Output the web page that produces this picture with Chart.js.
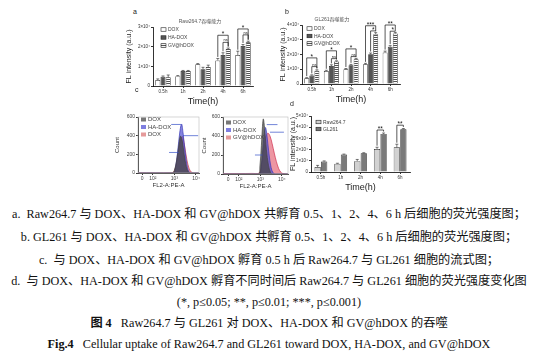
<!DOCTYPE html>
<html>
<head>
<meta charset="utf-8">
<script src="https://cdn.jsdelivr.net/npm/chart.js@4.4.1/dist/chart.umd.min.js"></script>
<style>
body{margin:0;background:#fff;width:538px;height:354px;position:relative;overflow:hidden;font-family:"Liberation Sans",Arial,sans-serif}
canvas{position:absolute}
.tag{position:absolute;font-size:7px;color:#222}
.cap{position:absolute;left:0;width:538px;text-align:center;white-space:nowrap;font-family:"Liberation Serif","Noto Sans CJK SC",serif;font-size:12.2px;line-height:14px;color:#111}
</style>
</head>
<body>
<canvas id="ca" width="132" height="90" style="left:125px;top:17px"></canvas>
<canvas id="cb" width="125" height="90" style="left:279px;top:15px"></canvas>
<canvas id="cc1" width="88" height="77" style="left:114px;top:112px"></canvas>
<canvas id="cc2" width="90" height="78" style="left:201px;top:112px"></canvas>
<canvas id="cd" width="125" height="84" style="left:289px;top:109px"></canvas>

<div class="tag" style="left:133px;top:8px">a</div>
<div class="tag" style="left:285px;top:8px">b</div>
<div class="tag" style="left:135px;top:86px">c</div>
<div class="tag" style="left:290px;top:100px">d</div>

<div class="cap" style="top:207px">a.&nbsp; Raw264.7 与 DOX、HA-DOX 和 GV@hDOX 共孵育 0.5、1、2、4、6 h 后细胞的荧光强度图；</div>
<div class="cap" style="top:230px">b. GL261 与 DOX、HA-DOX 和 GV@hDOX 共孵育 0.5、1、2、4、6 h 后细胞的荧光强度图；</div>
<div class="cap" style="top:253px">c.&nbsp; 与 DOX、HA-DOX 和 GV@hDOX 孵育 0.5 h 后 Raw264.7 与 GL261 细胞的流式图；</div>
<div class="cap" style="top:274px">d.&nbsp; 与 DOX、HA-DOX 和 GV@hDOX 孵育不同时间后 Raw264.7 与 GL261 细胞的荧光强度变化图</div>
<div class="cap" style="top:295px">(*, p≤0.05; **, p≤0.01; ***, p≤0.001)</div>
<div class="cap" style="top:316px"><b>图 4</b>&nbsp;&nbsp; Raw264.7 与 GL261 对 DOX、HA-DOX 和 GV@hDOX 的吞噬</div>
<div class="cap" style="top:337px"><b>Fig.4</b>&nbsp;&nbsp; Cellular uptake of Raw264.7 and GL261 toward DOX, HA-DOX, and GV@hDOX</div>

<script>
// ---------- data (FL intensity in units of 10^4) ----------
const times = ["0.5h", "1h", "2h", "4h", "6h"];

// a. Raw264.7
const rawDOX = [0.30, 0.50, 1.10, 1.30, 1.57];
const rawHA  = [0.47, 0.76, 0.85, 1.57, 2.03];
const rawGV  = [0.44, 0.76, 0.96, 1.88, 2.22];
const rawDOXErr = [0.06, 0.03, 0.04, 0.10, 0.20];
const rawHAErr  = [0.04, 0.03, 0.10, 0.12, 0.08];
const rawGVErr  = [0.12, 0.03, 0.10, 0.05, 0.06];
// [time index, from dataset, to dataset, bracket height, label]
const rawSig = [[3, 0, 2, 2.58, "*"], [3, 1, 2, 2.22, "ns"], [4, 0, 2, 2.9, "*"], [4, 1, 2, 2.6, "ns"]];

// b. GL261
const glDOX = [0.39, 0.88, 1.00, 1.34, 2.13];
const glHA  = [0.57, 1.22, 1.27, 2.02, 2.52];
const glGV  = [0.90, 1.52, 1.68, 3.38, 3.42];
const glDOXErr = [0.04, 0.05, 0.05, 0.06, 0.10];
const glHAErr  = [0.05, 0.08, 0.06, 0.08, 0.08];
const glGVErr  = [0.06, 0.05, 0.06, 0.10, 0.08];
const glSig = [[0, 0, 2, 1.77, "*"], [0, 1, 2, 1.18, "ns"], [1, 0, 2, 2.25, "*"], [1, 1, 2, 1.72, "ns"],
               [2, 0, 2, 2.38, "*"], [2, 1, 2, 1.86, "ns"], [3, 0, 2, 3.95, "***"], [3, 1, 2, 3.6, "*"],
               [4, 0, 2, 4.0, "**"], [4, 1, 2, 3.58, "*"]];

// d. GV@hDOX in both cell lines
const dRaw = [0.44, 0.74, 0.97, 2.06, 2.20];
const dGL  = [0.94, 1.56, 1.68, 3.40, 3.82];
const dRawErr = [0.15, 0.04, 0.15, 0.15, 0.28];
const dGLErr  = [0.05, 0.04, 0.04, 0.08, 0.06];
const dSig = [[3, 0, 1, 3.75, "**"], [4, 0, 1, 4.18, "**"]];

// c. flow histograms: [log10 FL2-A, count]
const flowTicks = [1.5, 2, 3, 4];
const flowTickText = ["0", "10²", "10³", "10⁴"];
const rawFlowDOX = [[1.31,0],[2.9,0],[3.0,30],[3.1,130],[3.2,290],[3.28,395],[3.36,350],[3.45,200],[3.55,70],[3.65,10],[3.75,0],[4.14,0]];
const rawFlowHA  = [[1.31,0],[2.95,0],[3.05,60],[3.15,230],[3.25,440],[3.33,525],[3.4,430],[3.5,220],[3.6,60],[3.7,5],[3.8,0],[4.14,0]];
const rawFlowGV  = [[1.31,2],[2.9,3],[3.0,25],[3.1,110],[3.2,260],[3.3,370],[3.38,390],[3.48,280],[3.58,140],[3.68,50],[3.78,10],[3.9,0],[4.14,0]];
const glFlowDOX = [[1.26,0],[2.9,0],[2.98,80],[3.05,300],[3.1,500],[3.14,580],[3.2,480],[3.28,260],[3.38,90],[3.48,15],[3.58,0],[4.29,0]];
const glFlowHA  = [[1.26,0],[2.95,0],[3.03,60],[3.1,220],[3.18,420],[3.24,490],[3.3,420],[3.4,220],[3.5,70],[3.6,10],[3.7,0],[4.29,0]];
const glFlowGV  = [[1.26,4],[2.0,5],[2.6,6],[2.95,10],[3.05,80],[3.15,250],[3.25,390],[3.35,430],[3.45,400],[3.55,320],[3.65,220],[3.75,130],[3.85,60],[3.95,20],[4.05,5],[4.29,0]];
// gate markers [x from, x to, count]
const rawMarks = [[2.85, 3.3, 520], [3.4, 4.1, 400], [2.75, 3.2, 220]];
const glMarks  = [[3.3, 3.8, 520], [3.45, 4.1, 440], [2.75, 3.1, 200]];

// ---------- helpers ----------
Chart.defaults.font.family = '"Liberation Sans", Arial, "Noto Sans CJK SC", sans-serif';
Chart.defaults.color = '#333';

function stripes() {
  const c = document.createElement('canvas');
  c.width = 2; c.height = 2;
  const g = c.getContext('2d');
  g.fillStyle = '#fff'; g.fillRect(0, 0, 2, 2);
  g.fillStyle = '#555'; g.fillRect(0, 0, 2, 1);
  return g.createPattern(c, 'repeat');
}

const errorBars = {
  id: 'errorBars',
  afterDatasetsDraw(chart) {
    const { ctx } = chart, y = chart.scales.y;
    ctx.save();
    ctx.strokeStyle = '#222'; ctx.lineWidth = 0.6;
    chart.data.datasets.forEach((ds, i) => {
      if (!ds.err) return;
      chart.getDatasetMeta(i).data.forEach((el, j) => {
        const top = y.getPixelForValue(ds.data[j] + ds.err[j]);
        ctx.beginPath();
        ctx.moveTo(el.x, el.y); ctx.lineTo(el.x, top);
        ctx.moveTo(el.x - 1.5, top); ctx.lineTo(el.x + 1.5, top);
        ctx.stroke();
      });
    });
    ctx.restore();
  }
};

const sigBrackets = {
  id: 'sigBrackets',
  afterDatasetsDraw(chart, args, o) {
    if (!o.list) return;
    const { ctx } = chart, y = chart.scales.y;
    ctx.save();
    ctx.strokeStyle = '#111'; ctx.fillStyle = '#111'; ctx.lineWidth = 0.7;
    ctx.textAlign = 'center'; ctx.textBaseline = 'bottom';
    o.list.forEach(([g, a, b, h, txt]) => {
      const ea = chart.getDatasetMeta(a).data[g], eb = chart.getDatasetMeta(b).data[g];
      const da = chart.data.datasets[a], db = chart.data.datasets[b];
      const yy = y.getPixelForValue(h);
      const ya = y.getPixelForValue(da.data[g] + da.err[g]) - 1.5;
      const yb = y.getPixelForValue(db.data[g] + db.err[g]) - 1.5;
      ctx.beginPath();
      ctx.moveTo(ea.x, ya); ctx.lineTo(ea.x, yy); ctx.lineTo(eb.x, yy); ctx.lineTo(eb.x, yb);
      ctx.stroke();
      ctx.font = (txt === 'ns' ? 4 : 6.5) + 'px "Liberation Sans"';
      ctx.fillText(txt, (ea.x + eb.x) / 2, yy + (txt === 'ns' ? 0 : 2.3));
    });
    ctx.restore();
  }
};

// small chart heading placed relative to the plot area
const areaTitle = {
  id: 'areaTitle',
  afterDraw(chart, args, o) {
    if (!o.text) return;
    const { ctx, chartArea: ca } = chart;
    ctx.save();
    ctx.font = '5px "Liberation Sans", "Noto Sans CJK SC"';
    ctx.fillStyle = '#555';
    ctx.textAlign = 'center'; ctx.textBaseline = 'middle';
    ctx.fillText(o.text, ca.left + o.dx, ca.top - 5);
    ctx.restore();
  }
};

const boxLegend = {
  id: 'boxLegend',
  afterDraw(chart, args, o) {
    if (!o.x && o.x !== 0) return;
    const { ctx, chartArea: ca } = chart;
    ctx.save();
    ctx.font = o.size + 'px "Liberation Sans"';
    ctx.textBaseline = 'middle';
    chart.data.datasets.forEach((ds, i) => {
      const x = ca.left + o.x, y = ca.top + o.y + i * o.gap;
      ctx.fillStyle = ds.legendColor || ds.backgroundColor;
      ctx.fillRect(x, y - o.h / 2, o.w, o.h);
      if (o.stroke) {
        ctx.strokeStyle = '#222'; ctx.lineWidth = 0.6;
        ctx.strokeRect(x, y - o.h / 2, o.w, o.h);
      }
      ctx.fillStyle = '#444';
      ctx.fillText(ds.label, x + o.w + 2, y + 0.3);
    });
    ctx.restore();
  }
};

const frameMarks = {
  id: 'frameMarks',
  afterDatasetsDraw(chart, args, o) {
    if (!o.marks) return;
    const { ctx, chartArea: ca, scales } = chart;
    ctx.save();
    ctx.strokeStyle = '#bbb'; ctx.lineWidth = 0.6;
    ctx.strokeRect(ca.left, ca.top, ca.right - ca.left, ca.bottom - ca.top);
    ctx.strokeStyle = '#3550c8'; ctx.lineWidth = 0.7;
    o.marks.forEach(([x0, x1, c]) => {
      const yy = scales.y.getPixelForValue(c);
      ctx.beginPath();
      ctx.moveTo(scales.x.getPixelForValue(x0), yy);
      ctx.lineTo(scales.x.getPixelForValue(x1), yy);
      ctx.stroke();
    });
    ctx.restore();
  }
};

Chart.register(errorBars, sigBrackets, areaTitle, boxLegend, frameMarks);

const axisLine = { color: '#000', width: 0.8 };
const tickGrid = { drawOnChartArea: false, tickColor: '#000', tickLength: 2, lineWidth: 0.8, offset: false };

function barChart(id, sets, o) {
  return new Chart(document.getElementById(id), {
    type: 'bar',
    data: { labels: times, datasets: sets },
    options: {
      responsive: false, animation: false,
      layout: { padding: o.pad },
      datasets: { bar: { categoryPercentage: o.cat, barPercentage: 0.96, borderWidth: 0.7, borderColor: '#222' } },
      scales: {
        x: {
          grid: tickGrid, border: axisLine,
          ticks: { font: { size: 4.5 }, padding: 1, maxRotation: 0, color: '#333' },
          title: { display: true, text: 'Time(h)', font: { size: 9 }, color: '#222', padding: { top: 1, bottom: 0 } },
          afterFit: s => { s.height = o.xh; }
        },
        y: {
          min: 0, max: o.max,
          grid: tickGrid, border: axisLine,
          ticks: { stepSize: 1, font: { size: 4.5 }, padding: 1, color: '#333',
                   callback: v => v === 0 ? '0' : v + '×10⁴' },
          title: { display: true, text: 'FL intensity (a.u.)', font: { size: 7 }, color: '#222', padding: { top: 0, bottom: 1 } },
          afterFit: s => { s.width = o.yw; }
        }
      },
      plugins: {
        legend: { display: false }, tooltip: { enabled: false }, title: { display: false },
        areaTitle: o.title || {},
        sigBrackets: { list: o.sig },
        boxLegend: o.legend
      }
    }
  });
}

const GV = stripes();

barChart('ca', [
  { label: 'DOX', data: rawDOX, err: rawDOXErr, backgroundColor: '#fff' },
  { label: 'HA-DOX', data: rawHA, err: rawHAErr, backgroundColor: '#555' },
  { label: 'GV@hDOX', data: rawGV, err: rawGVErr, backgroundColor: GV }
], { max: 3, yw: 28, xh: 21, cat: 0.78, pad: { top: 10, right: 4 }, title: { text: 'Raw264.7吞噬能力', dx: 47 }, sig: rawSig,
     legend: { x: 8, y: 2.5, gap: 8, w: 5, h: 3.5, size: 5, stroke: true } });

barChart('cb', [
  { label: 'DOX', data: glDOX, err: glDOXErr, backgroundColor: '#fff' },
  { label: 'HA-DOX', data: glHA, err: glHAErr, backgroundColor: '#555' },
  { label: 'GV@hDOX', data: glGV, err: glGVErr, backgroundColor: GV }
], { max: 4, yw: 23, xh: 21, cat: 0.78, pad: { top: 10, right: 4 }, title: { text: 'GL261吞噬能力', dx: 30 }, sig: glSig,
     legend: { x: 5, y: 3.5, gap: 7.5, w: 5, h: 3.5, size: 5, stroke: true } });

barChart('cd', [
  { label: 'Raw264.7', data: dRaw, err: dRawErr, backgroundColor: '#d2d2d2' },
  { label: 'GL261', data: dGL, err: dGLErr, backgroundColor: '#7a7a7a' }
], { max: 5, yw: 22, xh: 21, cat: 0.66, pad: { top: 7, right: 4 }, sig: dSig,
     legend: { x: 5, y: 6, gap: 7, w: 5, h: 3.5, size: 5, stroke: true } });

function flowChart(id, sets, o) {
  return new Chart(document.getElementById(id), {
    type: 'scatter',
    data: { datasets: sets.map(s => ({
      label: s.label, data: s.data.map(([x, y]) => ({ x, y })), showLine: true, fill: 'origin',
      borderColor: s.line, backgroundColor: s.fill, legendColor: s.key, borderWidth: 0.7, pointRadius: 0, tension: 0.35
    })) },
    options: {
      responsive: false, animation: false,
      layout: { padding: { top: 5, right: 3 } },
      scales: {
        x: {
          min: o.min, max: o.max,
          grid: tickGrid, border: axisLine,
          afterBuildTicks: s => { s.ticks = flowTicks.map(v => ({ value: v })); },
          ticks: { font: { size: 5 }, padding: 0.5, color: '#444', maxRotation: 0,
                   callback: v => flowTickText[flowTicks.indexOf(v)] },
          title: { display: true, text: 'FL2-A:PE-A', font: { size: 6 }, color: '#333', padding: { top: 0, bottom: 0 } },
          afterFit: s => { s.height = 16; }
        },
        y: {
          min: 0, max: 600,
          grid: tickGrid, border: axisLine,
          ticks: { stepSize: 200, font: { size: 5 }, padding: 1, color: '#444' },
          title: { display: true, text: 'Count', font: { size: 6 }, color: '#333', padding: { top: 0, bottom: 1 } },
          afterFit: s => { s.width = o.yw; }
        }
      },
      plugins: {
        legend: { display: false }, tooltip: { enabled: false },
        boxLegend: { x: 3, y: o.ly, gap: 7.5, w: 5, h: 4, size: 6, stroke: false },
        frameMarks: { marks: o.marks }
      }
    }
  });
}

flowChart('cc1', [
  { label: 'DOX', data: rawFlowDOX, line: '#444', fill: 'rgba(70,70,70,0.75)', key: '#777' },
  { label: 'HA-DOX', data: rawFlowHA, line: '#3a3ab8', fill: 'rgba(80,80,210,0.7)', key: '#7f7fe0' },
  { label: 'DOX', data: rawFlowGV, line: '#c04050', fill: 'rgba(220,90,110,0.6)', key: '#e59a9a' }
], { min: 1.31, max: 4.14, yw: 24, ly: 2.5, marks: rawMarks });

flowChart('cc2', [
  { label: 'DOX', data: glFlowDOX, line: '#444', fill: 'rgba(70,70,70,0.75)', key: '#777' },
  { label: 'HA-DOX', data: glFlowHA, line: '#3a3ab8', fill: 'rgba(80,80,210,0.7)', key: '#7f7fe0' },
  { label: 'GV@hDOX', data: glFlowGV, line: '#d03050', fill: 'rgba(225,80,100,0.6)', key: '#e59a9a' }
], { min: 1.26, max: 4.29, yw: 22, ly: 5.5, marks: glMarks });
</script>
</body>
</html>
